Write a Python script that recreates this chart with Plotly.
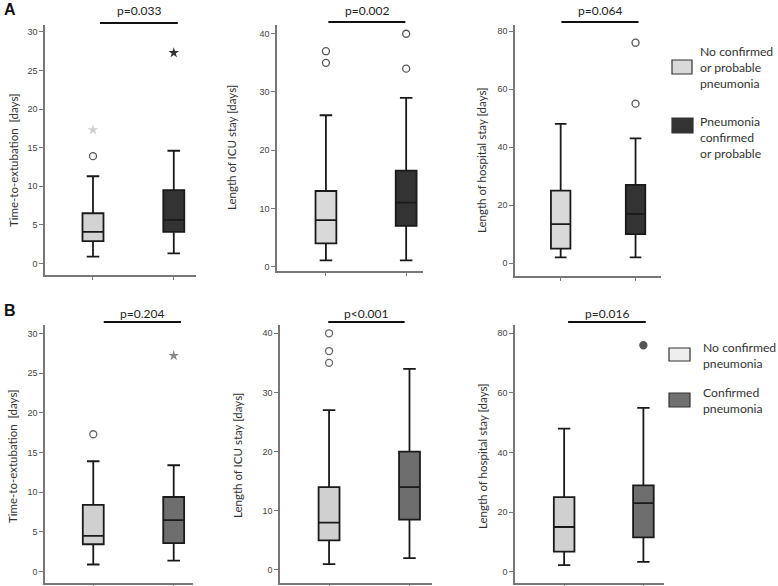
import plotly.graph_objects as go

# five-number summaries per group: lower whisker, Q1, median, Q3, upper whisker
a_extubation = [[0.87, 2.9, 4.1, 6.5, 11.3], [1.3, 4.1, 5.65, 9.5, 14.6]]
a_icu = [[1.1, 4.0, 8.0, 13.0, 26.0], [1.1, 7.0, 11.0, 16.5, 29.0]]
a_hospital = [[2.0, 5.0, 13.5, 25.0, 48.0], [2.0, 10.0, 17.0, 27.0, 43.0]]
b_extubation = [[0.9, 3.45, 4.5, 8.4, 13.9], [1.4, 3.6, 6.5, 9.4, 13.4]]
b_icu = [[1.0, 5.0, 8.0, 14.0, 27.0], [2.0, 8.5, 14.0, 20.0, 34.0]]
b_hospital = [[2.2, 6.7, 15.0, 25.0, 48.0], [3.3, 11.5, 23.0, 29.0, 55.0]]

# outliers (circles) and extreme values (stars) per group
a_extubation_circles = [[13.9], []]
a_extubation_stars = [[17.3], [27.3]]
a_icu_circles = [[35, 37], [34, 40]]
a_hospital_circles = [[], [55, 76]]
b_extubation_circles = [[17.3], []]
b_extubation_stars = [[], [27.2]]
b_icu_circles = [[35, 37, 40], []]
b_hospital_circles = [[], [76]]

a_pvalues = ["p=0.033", "p=0.002", "p=0.064"]
b_pvalues = ["p=0.204", "p<0.001", "p=0.016"]
y_titles = ["Time-to-extubation  [days]", "Length of ICU stay [days]", "Length of hospital stay [days]"]
y_ticks = [[0, 5, 10, 15, 20, 25, 30], [0, 10, 20, 30, 40], [0, 20, 40, 60, 80]]
a_legend = ["No confirmed<br>or probable<br>pneumonia", "Pneumonia<br>confirmed<br>or probable"]
b_legend = ["No confirmed<br>pneumonia", "Confirmed<br>pneumonia"]

W, H = 778, 586
def px(x):
    return x / W
def py(y):
    return 1 - y / H

TICK_FONT = dict(family="Liberation Sans", size=9, color="#444")
TEXT_FONT = "Lato"

panels = [
    dict(stats=a_extubation, circles=a_extubation_circles, stars=a_extubation_stars, p=a_pvalues[0],
         fills=["#d3d3d3", "#333333"], star_col=["#cfcfcf", "#333333"], circ_col="#555",
         xdom=(45, 196), ydom=(25, 275), xr=(-0.594, 1.275), yr=(-1.5, 30.9), ticks=y_ticks[0],
         title=y_titles[0], tx=13, ty=160, bar=(0.087, 1.05), bary=23, texty=10),
    dict(stats=a_icu, circles=a_icu_circles, stars=[[], []], p=a_pvalues[1],
         fills=["#d9d9d9", "#333333"], star_col=["#ccc", "#333"], circ_col="#555",
         xdom=(277, 423), ydom=(25, 271), xr=(-0.61, 1.21), yr=(-0.74, 41.5), ticks=y_ticks[1],
         title=y_titles[1], tx=231, ty=148, bar=(0.03, 0.99), bary=22, texty=10),
    dict(stats=a_hospital, circles=a_hospital_circles, stars=[[], []], p=a_pvalues[2],
         fills=["#d9d9d9", "#333333"], star_col=["#ccc", "#333"], circ_col="#555",
         xdom=(515, 661), ydom=(25, 276), xr=(-0.61, 1.34), yr=(-4.4, 82.1), ticks=y_ticks[2],
         title=y_titles[2], tx=481, ty=160, bar=(0.01, 1.04), bary=22, texty=10),
    dict(stats=b_extubation, circles=b_extubation_circles, stars=b_extubation_stars, p=b_pvalues[0],
         fills=["#d0d0d0", "#6e6e6e"], star_col=["#999", "#8a8a8a"], circ_col="#666",
         xdom=(45, 193), ydom=(325, 583), xr=(-0.60, 1.24), yr=(-1.43, 31.06), ticks=y_ticks[0],
         title=y_titles[0], tx=12, ty=456, bar=(0.13, 1.09), bary=322, texty=313),
    dict(stats=b_icu, circles=b_icu_circles, stars=[[], []], p=b_pvalues[1],
         fills=["#d0d0d0", "#6e6e6e"], star_col=["#999", "#888"], circ_col="#666",
         xdom=(280, 432), ydom=(325, 583), xr=(-0.61, 1.28), yr=(-2.2, 41.4), ticks=y_ticks[1],
         title=y_titles[1], tx=237, ty=456, bar=(-0.01, 0.94), bary=322, texty=313),
    dict(stats=b_hospital, circles=b_hospital_circles, stars=[[], []], p=b_pvalues[2],
         fills=["#d0d0d0", "#6e6e6e"], star_col=["#999", "#888"], circ_col="#555",
         xdom=(515, 664), ydom=(325, 583), xr=(-0.62, 1.26), yr=(-3.8, 82.8), ticks=y_ticks[2],
         title=y_titles[2], tx=482, ty=456, bar=(0.05, 1.03), bary=322, texty=313),
]

fig = go.Figure()
layout = {}
shapes = []
annotations = []

for i, p in enumerate(panels):
    n = "" if i == 0 else str(i + 1)
    xa, ya = "x" + n, "y" + n
    for g in range(2):
        lo, q1, med, q3, hi = p["stats"][g]
        fig.add_trace(go.Box(
            x=[g], lowerfence=[lo], q1=[q1], median=[med], q3=[q3], upperfence=[hi],
            width=0.26, whiskerwidth=0.6, fillcolor=p["fills"][g],
            line=dict(color="#1a1a1a", width=1.8), boxpoints=False,
            xaxis=xa, yaxis=ya, showlegend=False, hoverinfo="skip"))
        if p["circles"][g]:
            filled = (i == 5)
            fig.add_trace(go.Scatter(
                x=[g] * len(p["circles"][g]), y=p["circles"][g], mode="markers",
                marker=dict(symbol="circle" if filled else "circle-open", size=7,
                            color=p["circ_col"], line=dict(width=1.3, color=p["circ_col"])),
                xaxis=xa, yaxis=ya, showlegend=False, cliponaxis=False))
        if p["stars"][g]:
            fig.add_trace(go.Scatter(
                x=[g] * len(p["stars"][g]), y=p["stars"][g], mode="markers",
                marker=dict(symbol="star", size=8, color=p["star_col"][g], line=dict(width=0)),
                xaxis=xa, yaxis=ya, showlegend=False, cliponaxis=False))

    layout["xaxis" + n] = dict(
        domain=[px(p["xdom"][0]), px(p["xdom"][1])], range=list(p["xr"]), anchor=ya,
        showline=True, linecolor="#777", linewidth=1.5, ticks="outside", ticklen=3,
        tickcolor="#777", tickvals=[0, 1], showticklabels=False, showgrid=False, zeroline=False,
        fixedrange=True)
    layout["yaxis" + n] = dict(
        domain=[py(p["ydom"][1]), py(p["ydom"][0])], range=list(p["yr"]), anchor=xa,
        showline=True, linecolor="#777", linewidth=1.5, ticks="outside", ticklen=4,
        tickcolor="#777", tickvals=p["ticks"], tickfont=TICK_FONT, showgrid=False,
        zeroline=False, fixedrange=True)

    shapes.append(dict(type="line", xref=xa, yref="paper", x0=p["bar"][0], x1=p["bar"][1],
                       y0=py(p["bary"]), y1=py(p["bary"]), line=dict(color="#111", width=1.8)))
    annotations.append(dict(xref=xa, yref="paper", x=(p["bar"][0] + p["bar"][1]) / 2,
                            y=py(p["texty"]), text=p["p"], showarrow=False,
                            font=dict(family=TEXT_FONT, size=12, color="#222"),
                            xanchor="center", yanchor="middle"))
    annotations.append(dict(xref="paper", yref="paper", x=px(p["tx"]), y=py(p["ty"]),
                            text=p["title"], textangle=-90, showarrow=False,
                            font=dict(family=TEXT_FONT, size=11.5, color="#333"),
                            xanchor="center", yanchor="middle"))

# panel letters
for letter, y in [("A", 9), ("B", 310)]:
    annotations.append(dict(xref="paper", yref="paper", x=px(10), y=py(y), text="<b>%s</b>" % letter,
                            showarrow=False, font=dict(family="Liberation Sans", size=16, color="#111"),
                            xanchor="center", yanchor="middle"))

# legends
legend_items = [
    (a_legend[0], "#d9d9d9", (672, 692, 60, 74), 698, 68),
    (a_legend[1], "#333333", (672, 693, 118, 133), 698, 138),
    (b_legend[0], "#eeeeee", (669, 690, 348, 361), 701, 355),
    (b_legend[1], "#707070", (669, 690, 393, 407), 701, 400),
]
for text, col, (x0, x1, y0, y1), tx, ty in legend_items:
    shapes.append(dict(type="rect", xref="paper", yref="paper", x0=px(x0), x1=px(x1),
                       y0=py(y1), y1=py(y0), fillcolor=col, line=dict(color="#333", width=1.2)))
    annotations.append(dict(xref="paper", yref="paper", x=px(tx), y=py(ty), text=text,
                            showarrow=False, align="left", xanchor="left", yanchor="middle",
                            font=dict(family=TEXT_FONT, size=12.2, color="#333")))

fig.update_layout(
    width=W, height=H, margin=dict(l=0, r=0, t=0, b=0),
    paper_bgcolor="white", plot_bgcolor="white",
    shapes=shapes, annotations=annotations, **layout)

# drop the default body margin so the 778x586 figure fills the window exactly
fig.write_html("out.html", config={"displayModeBar": False},
               post_script="document.body.style.margin='0';")
